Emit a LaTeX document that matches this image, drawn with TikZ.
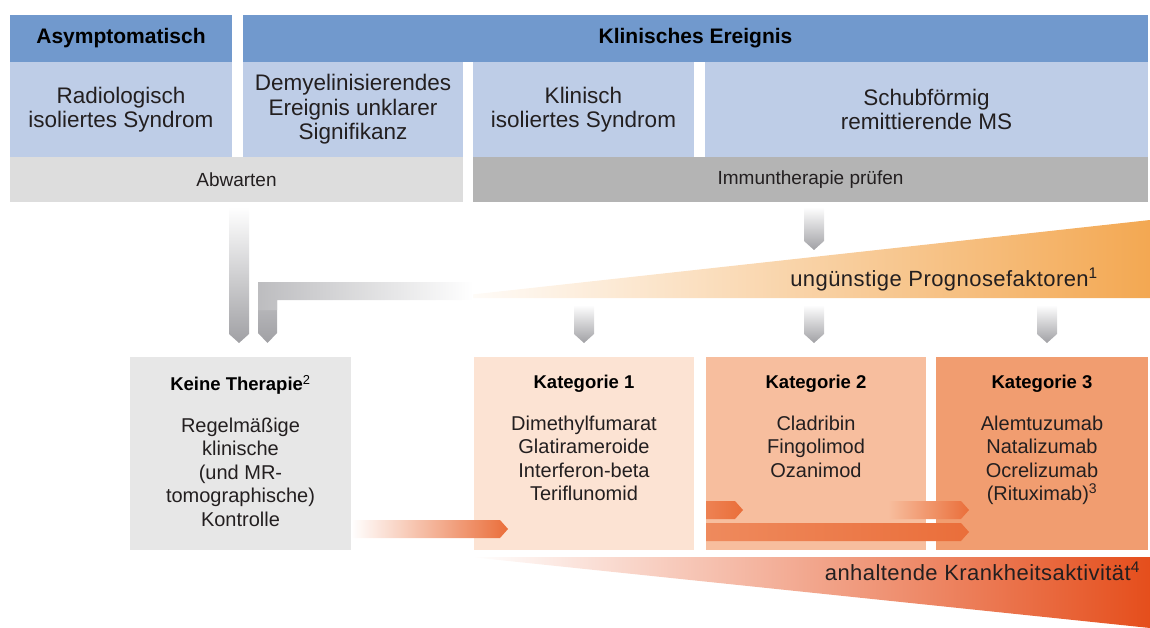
\documentclass[tikz,border=0pt]{standalone}
\usepackage{fontspec}
\setmainfont{Liberation Sans}
\usetikzlibrary{positioning,calc}

\definecolor{hdrblue}{RGB}{113,153,205}
\definecolor{boxblue}{RGB}{190,205,231}
\definecolor{waitgray}{RGB}{221,221,221}
\definecolor{immungray}{RGB}{180,180,180}
\definecolor{keinegray}{RGB}{231,231,231}
\definecolor{katA}{RGB}{252,227,211}
\definecolor{katB}{RGB}{247,190,158}
\definecolor{katC}{RGB}{241,157,112}
\definecolor{arrgray}{RGB}{160,160,164}
\definecolor{progorange}{RGB}{243,168,82}
\definecolor{activorange}{RGB}{229,78,28}
\definecolor{arrorange}{RGB}{234,110,58}
\definecolor{txt}{RGB}{35,31,32}

% grey block arrow, tip 13pt above the target
\newcommand{\grayarrow}[2]{%
  \shade[top color=white, bottom color=arrgray]
    let \p1=(#1), \p2=(#2) in
    (\x1-10pt,\y1) -- (\x1+10pt,\y1) -- (\x1+10pt,\y2+23pt) -- (\x1,\y2+14pt)
    -- (\x1-10pt,\y2+23pt) -- cycle;}
% orange block arrow, left colour given
\newcommand{\orangearrow}[3]{%
  \shade[left color=#3, right color=arrorange]
    let \p1=(#1), \p2=(#2) in
    (\x1,\y1+9pt) -- (\x2-8pt,\y1+9pt) -- (\x2,\y1) -- (\x2-8pt,\y1-9pt)
    -- (\x1,\y1-9pt) -- cycle;}

\begin{document}
\begin{tikzpicture}[x=1pt,y=-1pt,
  cell/.style={inner sep=0pt, outer sep=0pt, anchor=north west, align=center, text=txt},
  hdr/.style={cell, fill=hdrblue, minimum height=47, text=black,
    font=\fontsize{21}{24}\selectfont\bfseries},
  stage/.style={cell, fill=boxblue, minimum height=95,
    font=\fontsize{22.5}{24.5}\selectfont},
  bar/.style={cell, minimum height=45, font=\fontsize{19}{22}\selectfont},
  therapy/.style={cell, minimum width=220, minimum height=193},
  thead/.style={inner sep=0pt, text=black, font=\fontsize{18.5}{22}\selectfont\bfseries},
  tlist/.style={inner sep=0pt, align=center, text=txt, font=\fontsize{20}{23.5}\selectfont},
  wedgetext/.style={inner sep=0pt, text=txt,
    font=\fontsize{22}{24}\selectfont\addfontfeatures{LetterSpace=2}}]

\useasboundingbox (0,0) rectangle (1150,628);

% top rows
\node[hdr, minimum width=222] (asym) at (10,15) {Asymptomatisch};
\node[hdr, minimum width=905, right=11pt of asym] (klin) {Klinisches Ereignis};
\node[stage, minimum width=222, below=0pt of asym] (rad) {Radiologisch\\isoliertes Syndrom};
\node[stage, minimum width=220, right=11pt of rad] (dem) {Demyelinisierendes\\Ereignis unklarer\\Signifikanz};
\node[stage, minimum width=221, right=10pt of dem] (kis) {Klinisch\\isoliertes Syndrom};
\node[stage, minimum width=443, right=11pt of kis] (rrms) {Schubförmig\\remittierende MS};
\node[bar, fill=waitgray, minimum width=453] (wait) at (rad.south west) {Abwarten};
\node[bar, fill=immungray, minimum width=675] (immun) at (kis.south west) {Immuntherapie prüfen};

% wedges
\shade[left color=white, right color=progorange] (440,298) -- (1150,220) -- (1150,298) -- cycle;
\node[wedgetext, anchor=base east] (prog) at (1098,286) {ungünstige Prognosefaktoren\textsuperscript{1}};
\shade[left color=white, middle color=activorange!58!white, right color=activorange]
  (470,557) -- (1150,557) -- (1150,628) -- cycle;
\node[wedgetext, anchor=base east] (activ) at (1140,580) {anhaltende Krankheitsaktivität\textsuperscript{4}};

% therapy boxes
\node[therapy, fill=keinegray, minimum width=221] (keine) at (130,357) {};
\node[therapy, fill=katA] (kat1) at (474,357) {};
\node[therapy, fill=katB, right=12pt of kat1] (kat2) {};
\node[therapy, fill=katC, minimum width=212, right=10pt of kat2] (kat3) {};

\foreach \bx/\tx in {keine/Keine Therapie\textsuperscript{\mdseries 2},
                   kat1/Kategorie 1, kat2/Kategorie 2, kat3/Kategorie 3}
  \node[thead, below=18pt of \bx.north] (\bx-head) {\tx};

\node[tlist, below=23pt of keine-head] {Regelmäßige\\klinische\\(und MR-\\tomographische)\\Kontrolle};
\node[tlist, below=23pt of kat1-head] {Dimethylfumarat\\Glatirameroide\\Interferon-beta\\Teriflunomid};
\node[tlist, below=23pt of kat2-head] {Cladribin\\Fingolimod\\Ozanimod};
\node[tlist, below=23pt of kat3-head] {Alemtuzumab\\Natalizumab\\Ocrelizumab\\(Rituximab)\textsuperscript{3}};

% grey arrows
\coordinate (g1) at (239,207);
\coordinate (g2) at (814,207);
\coordinate (g2stop) at (814,264);
\coordinate (g3) at (584,305);
\coordinate (g4) at (814,305);
\coordinate (g5) at (1047,305);
\grayarrow{g1}{keine.north}
\grayarrow{g2}{g2stop}
\grayarrow{g3}{kat1.north}
\grayarrow{g4}{kat2.north}
\grayarrow{g5}{kat3.north}
% L-shaped arrow into Keine Therapie
\shade[top color=arrgray!60, bottom color=arrgray] (258,282) -- (277,282) -- (277,333)
  -- (267.5,343) -- (258,333) -- cycle;
\shade[left color=arrgray!70, right color=white] (258,282) -- (473,282) -- (473,300)
  -- (277,300) -- (277,310) -- (258,310) -- cycle;

% orange arrows
\coordinate (o0) at (351,529);
\coordinate (o0tip) at (508,529);
\coordinate (o1) at (706,510);
\coordinate (o1tip) at (743,510);
\coordinate (o2) at (888,510);
\coordinate (o2tip) at (969,510);
\coordinate (o3) at (706,532);
\coordinate (o3tip) at (969,532);
\orangearrow{o0}{o0tip}{white}
\orangearrow{o1}{o1tip}{arrorange!75!katB}
\orangearrow{o2}{o2tip}{katB}
\orangearrow{o3}{o3tip}{arrorange!65!katB}
\end{tikzpicture}
\end{document}
